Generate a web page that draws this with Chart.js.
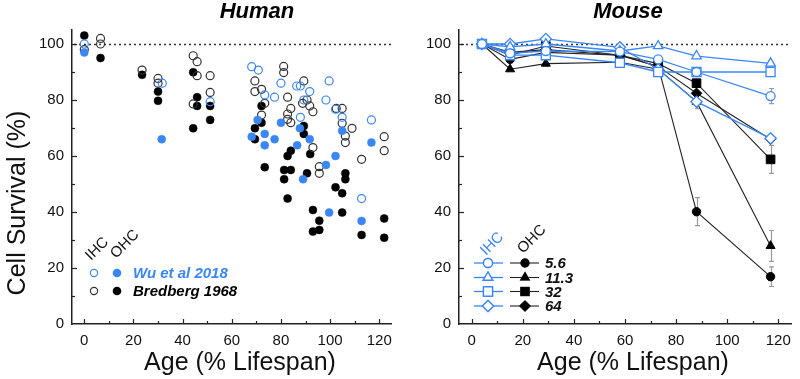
<!DOCTYPE html>
<html><head><meta charset="utf-8">
<script src="https://cdn.jsdelivr.net/npm/chart.js@4/dist/chart.umd.min.js"></script>
<style>
html,body{margin:0;padding:0;background:#fff;}
#wrap{position:relative;width:800px;height:379px;overflow:hidden;}
.pane{position:absolute;top:0;width:400px;height:379px;}
</style></head><body>
<div id="wrap">
<div class="pane" style="left:0"><canvas id="human" width="400" height="379"></canvas></div>
<div class="pane" style="left:400px"><canvas id="mouse" width="400" height="379"></canvas></div>
</div>
<script>
// ---------- DATA ----------
const xTickValues = [0, 20, 40, 60, 80, 100, 120];
const yTickValues = [0, 20, 40, 60, 80, 100];

// Human: Wu et al 2018 (blue), Bredberg 1968 (black)
const wuIhcAge  = [0, 31.7, 51.2, 68.1, 70.8, 73.4, 77.4, 80, 86.4, 87.9, 91.7, 89.3, 87.9, 98.3, 99.6, 102.2, 104.9, 116.8, 112.8];
const wuIhcSurv = [100, 86, 79.4, 91.9, 90.7, 81.8, 81, 86, 85, 85, 83, 80, 73.8, 80, 86.8, 76.7, 73.8, 72.9, 44.8];
const wuOhcAge  = [0, 31.5, 70.5, 68.1, 73.4, 73.4, 77.4, 80, 87.7, 91.7, 86.6, 102.2, 98.3, 89, 99.6, 104.9, 112.8, 116.8];
const wuOhcSurv = [97, 66, 72.9, 66.9, 67.9, 63.8, 66, 71.9, 69.9, 66, 63.8, 60, 56.8, 51.7, 39.8, 69, 36.8, 64.8];
const brIhcAge  = [0, 6.6, 6.6, 23.5, 30, 30, 44.3, 45.9, 45.9, 44.3, 51.2, 51.2, 69.4, 69.4, 72.1, 73.4, 72.1, 81.1, 81.1, 82.7, 84, 82.7, 82.7, 84, 89.3, 88.8, 90.6, 91.7, 93, 93, 95.6, 95.6, 102.5, 104.9, 104.9, 106.2, 106.2, 108.9, 112.8, 122, 122];
const brIhcSurv = [98, 102, 100, 90.7, 87.7, 86, 95.8, 93.7, 88.7, 78.6, 88.7, 82.7, 86.8, 83, 83.8, 78.8, 74.6, 92, 89.8, 81, 77, 75, 73.1, 71.9, 86.8, 78.8, 80, 77.9, 75.8, 63, 56.2, 53.8, 77, 77, 71.7, 67.1, 64.8, 69.9, 58.8, 66.9, 61.9];
const brOhcAge  = [0, 6.6, 23.5, 30, 30, 44.3, 45.9, 45.9, 44.3, 51.2, 51.2, 72.1, 72.1, 69.4, 69.4, 73.4, 81.3, 84, 81.3, 82.7, 84, 82.7, 89.3, 89.3, 91.9, 90.6, 93, 95.6, 93, 95.6, 102.2, 104.9, 104.9, 106.2, 106.2, 112.8, 122, 122];
const brOhcSurv = [103, 95, 89, 83, 79.7, 89.9, 81, 77.9, 69.9, 77.9, 72.9, 77.9, 71.9, 69.9, 66, 56, 55, 55, 51.7, 60, 61.9, 44.8, 70.7, 67.9, 60.7, 53.8, 40.7, 36.9, 33, 33.6, 48.8, 46.7, 39.8, 53.8, 51.7, 31.8, 37.7, 30.8];

// Mouse
const mouseAge = [4, 15, 29, 58, 73, 88, 117];
const mouseGroups = ['5.6', '11.3', '32', '64'];
const ihc5_6  = [100, 96.7, 97.5, 97.3, 94.5, 90, 81.4];
const ihc11_3 = [100, 99, 100, 97.5, 99.3, 95.7, 93.1];
const ihc32   = [100, 96, 96, 93.3, 90, 90, 90];
const ihc64   = [100, 100, 101.8, 98.8, 91, 79.4, 66.3];
const ohc5_6  = [100, 94.5, 97, 96, 92, 40.1, 16.9];
const ohc11_3 = [100, 91, 93, 93.5, 91, 79.4, 27.9];
const ohc32   = [100, 96, 99.3, 96, 93, 86, 58.8];
const ohc64   = [100, 97, 98, 96, 92, 82.4, 66];
const ihc5_6Err  = [0, 0, 0, 0, 0, 0, 2.7];
const ihc64Err   = [0, 0, 0, 0, 0, 2.5, 0];
const ohc5_6Err  = [0, 0, 0, 0, 0, 5, 3.5];
const ohc11_3Err = [0, 0, 0, 0, 0, 0, 5.5];
const ohc32Err   = [0, 0, 0, 0, 0, 0, 5];

// ---------- STYLE ----------
const FONT = "'Liberation Sans', Arial, Helvetica, sans-serif";
const BLUE = '#3a86f5';
const BLACK = '#000';
const zip = (xs, ys) => xs.map((x, i) => ({x, y: ys[i]}));

function scalesFor(yWidth) {
  return {
    x: {
      type: 'linear', min: -5, max: 125,
      afterBuildTicks: s => { s.ticks = xTickValues.map(v => ({value: v})); },
      afterFit: s => { s.height = 55; },
      grid: {display: true, drawOnChartArea: false, drawTicks: false},
      border: {display: true, color: '#222', width: 1.5},
      ticks: {padding: 8, color: '#111', font: {family: FONT, size: 15}, maxRotation: 0, autoSkip: false}
    },
    y: {
      type: 'linear', min: 0, max: 105,
      afterBuildTicks: s => { s.ticks = yTickValues.map(v => ({value: v})); },
      afterFit: s => { s.width = yWidth; },
      grid: {display: true, drawOnChartArea: false, drawTicks: false},
      border: {display: true, color: '#222', width: 1.5},
      ticks: {padding: 8, color: '#111', font: {family: FONT, size: 15}, autoSkip: false}
    }
  };
}

function drawCommon(chart, xTitleX) {
  const ctx = chart.ctx, xs = chart.scales.x, ys = chart.scales.y, a = chart.chartArea;
  ctx.save();
  ctx.strokeStyle = '#222'; ctx.lineWidth = 1.2;
  for (let v = 0; v <= 120; v += 10) {
    const px = Math.round(xs.getPixelForValue(v)) + 0.5;
    const len = v % 20 === 0 ? 5 : 3;
    ctx.beginPath(); ctx.moveTo(px, a.bottom); ctx.lineTo(px, a.bottom - len); ctx.stroke();
  }
  for (let v = 10; v <= 100; v += 10) {
    const py = Math.round(ys.getPixelForValue(v)) + 0.5;
    const len = v % 20 === 0 ? 5 : 3;
    ctx.beginPath(); ctx.moveTo(a.left, py); ctx.lineTo(a.left + len, py); ctx.stroke();
  }
  ctx.fillStyle = '#111';
  ctx.font = '25px ' + FONT;
  ctx.textAlign = 'center'; ctx.textBaseline = 'middle';
  ctx.fillText('Age (% Lifespan)', xTitleX, 363);
  ctx.restore();
}

function drawRefLine(chart) {
  const ctx = chart.ctx, ys = chart.scales.y, a = chart.chartArea;
  const py = Math.round(ys.getPixelForValue(100)) + 0.5;
  ctx.save();
  ctx.strokeStyle = '#333'; ctx.lineWidth = 1.6; ctx.setLineDash([2, 3]);
  ctx.beginPath(); ctx.moveTo(a.left + 2, py); ctx.lineTo(a.right, py); ctx.stroke();
  ctx.restore();
}

function drawTitle(chart, text, cx) {
  const ctx = chart.ctx;
  ctx.save();
  ctx.fillStyle = '#000';
  ctx.font = 'italic bold 22px ' + FONT;
  ctx.textAlign = 'center'; ctx.textBaseline = 'middle';
  ctx.fillText(text, cx, 12);
  ctx.restore();
}

function rotText(ctx, text, x, y, color, size) {
  ctx.save();
  ctx.translate(x, y); ctx.rotate(-Math.PI / 4);
  ctx.fillStyle = color; ctx.font = size + 'px ' + FONT;
  ctx.textAlign = 'left'; ctx.textBaseline = 'alphabetic';
  ctx.fillText(text, 0, 0);
  ctx.restore();
}

// ---------- HUMAN ----------
const humanPlugin = {
  id: 'humanDeco',
  beforeDatasetsDraw(chart) { drawRefLine(chart); },
  afterDraw(chart) {
    const ctx = chart.ctx;
    drawCommon(chart, 240);
    drawTitle(chart, 'Human', 257);
    // y title
    ctx.save();
    ctx.translate(18, 203); ctx.rotate(-Math.PI / 2);
    ctx.fillStyle = '#111'; ctx.font = '25px ' + FONT;
    ctx.textAlign = 'center'; ctx.textBaseline = 'middle';
    ctx.fillText('Cell Survival (%)', 0, 0);
    ctx.restore();
    // legend
    rotText(ctx, 'IHC', 91, 261, '#111', 15);
    rotText(ctx, 'OHC', 116, 259, '#111', 15);
    const rows = [{label: 'Wu et al 2018', color: BLUE, open: BLUE, y: 273},
                  {label: 'Bredberg 1968', color: BLACK, open: '#333', y: 291}];
    rows.forEach(r => {
      ctx.save();
      ctx.lineWidth = 1.2; ctx.strokeStyle = r.open;
      ctx.beginPath(); ctx.arc(94, r.y, 3.6, 0, Math.PI * 2); ctx.stroke();
      ctx.fillStyle = r.color;
      ctx.beginPath(); ctx.arc(117, r.y, 4.3, 0, Math.PI * 2); ctx.fill();
      ctx.font = 'italic bold 15px ' + FONT;
      ctx.textAlign = 'left'; ctx.textBaseline = 'middle';
      ctx.fillText(r.label, 133, r.y + 1);
      ctx.restore();
    });
  }
};

new Chart(document.getElementById('human'), {
  type: 'scatter',
  data: {
    datasets: [
      {label: 'Wu IHC', data: zip(wuIhcAge, wuIhcSurv), pointRadius: 4, pointBorderWidth: 1.2, pointBorderColor: BLUE, pointBackgroundColor: 'rgba(255,255,255,0)'},
      {label: 'Wu OHC', data: zip(wuOhcAge, wuOhcSurv), pointRadius: 4, pointBorderWidth: 0.5, pointBorderColor: BLUE, pointBackgroundColor: BLUE},
      {label: 'Bredberg IHC', data: zip(brIhcAge, brIhcSurv), pointRadius: 4, pointBorderWidth: 1.2, pointBorderColor: '#333', pointBackgroundColor: 'rgba(255,255,255,0)'},
      {label: 'Bredberg OHC', data: zip(brOhcAge, brOhcSurv), pointRadius: 4, pointBorderWidth: 0.5, pointBorderColor: BLACK, pointBackgroundColor: BLACK}
    ]
  },
  options: {
    responsive: false, animation: false, devicePixelRatio: 1,
    layout: {padding: {top: 30, left: 0, right: 0, bottom: 0}},
    plugins: {legend: {display: false}, tooltip: {enabled: false}},
    scales: scalesFor(72),
    elements: {point: {hoverRadius: 4}},
    datasets: {scatter: {clip: false}}
  },
  plugins: [humanPlugin]
});

// ---------- MOUSE ----------
const styles = ['circle', 'triangle', 'rect', 'rectRot'];
const radii = [4.5, 5.5, 6.4, 5.6];
const ihcSeries = [ihc5_6, ihc11_3, ihc32, ihc64];
const ohcSeries = [ohc5_6, ohc11_3, ohc32, ohc64];
const ihcErrs = [ihc5_6Err, null, null, ihc64Err];
const ohcErrs = [ohc5_6Err, ohc11_3Err, ohc32Err, null];

const mouseDatasets = [];
ihcSeries.forEach((s, i) => mouseDatasets.push({
  label: 'IHC ' + mouseGroups[i], data: zip(mouseAge, s), showLine: true,
  borderColor: BLUE, borderWidth: 1.3, pointStyle: styles[i], pointRadius: radii[i],
  pointBorderColor: BLUE, pointBorderWidth: 1.3, pointBackgroundColor: '#fff', errs: ihcErrs[i]
}));
ohcSeries.forEach((s, i) => mouseDatasets.push({
  label: 'OHC ' + mouseGroups[i], data: zip(mouseAge, s), showLine: true,
  borderColor: '#222', borderWidth: 1.1, pointStyle: styles[i], pointRadius: radii[i] - 0.3,
  pointBorderColor: '#000', pointBorderWidth: 1, pointBackgroundColor: '#000', errs: ohcErrs[i]
}));

const mousePlugin = {
  id: 'mouseDeco',
  beforeDatasetsDraw(chart) {
    drawRefLine(chart);
    const ctx = chart.ctx, xs = chart.scales.x, ys = chart.scales.y;
    ctx.save();
    ctx.strokeStyle = '#9a9a9a'; ctx.lineWidth = 1.2;
    chart.data.datasets.forEach(ds => {
      if (!ds.errs) return;
      ds.errs.forEach((e, j) => {
        if (!e) return;
        const px = Math.round(xs.getPixelForValue(mouseAge[j])) + 0.5;
        const y1 = ys.getPixelForValue(ds.data[j].y + e), y2 = ys.getPixelForValue(ds.data[j].y - e);
        ctx.beginPath();
        ctx.moveTo(px, y1); ctx.lineTo(px, y2);
        ctx.moveTo(px - 2.5, y1); ctx.lineTo(px + 2.5, y1);
        ctx.moveTo(px - 2.5, y2); ctx.lineTo(px + 2.5, y2);
        ctx.stroke();
      });
    });
    ctx.restore();
  },
  afterDraw(chart) {
    const ctx = chart.ctx;
    drawCommon(chart, 233);
    drawTitle(chart, 'Mouse', 228);
    rotText(ctx, 'IHC', 86, 256, BLUE, 15);
    rotText(ctx, 'OHC', 123, 254, '#111', 15);
    const rowsY = [263, 277.5, 291.5, 306];
    mouseGroups.forEach((g, i) => {
      const y = rowsY[i];
      ctx.save();
      ctx.strokeStyle = BLUE; ctx.lineWidth = 1.3;
      ctx.beginPath(); ctx.moveTo(74, y); ctx.lineTo(103, y); ctx.stroke();
      Chart.helpers.drawPoint(ctx, {pointStyle: styles[i], radius: radii[i], borderWidth: 1.3}, 88, y);
      ctx.fillStyle = '#fff'; ctx.fill(); ctx.stroke();
      ctx.strokeStyle = '#222'; ctx.lineWidth = 1.1;
      ctx.beginPath(); ctx.moveTo(110, y); ctx.lineTo(139, y); ctx.stroke();
      ctx.fillStyle = '#000';
      Chart.helpers.drawPoint(ctx, {pointStyle: styles[i], radius: radii[i] - 0.3, borderWidth: 1}, 125, y);
      ctx.fill();
      ctx.font = 'italic bold 15px ' + FONT;
      ctx.textAlign = 'left'; ctx.textBaseline = 'middle';
      ctx.fillStyle = '#111';
      ctx.fillText(g, 145, y + 1);
      ctx.restore();
    });
  }
};

new Chart(document.getElementById('mouse'), {
  type: 'scatter',
  data: {datasets: mouseDatasets},
  options: {
    responsive: false, animation: false, devicePixelRatio: 1,
    layout: {padding: {top: 30, left: 0, right: 9, bottom: 0}},
    plugins: {legend: {display: false}, tooltip: {enabled: false}},
    scales: scalesFor(59),
    datasets: {scatter: {clip: false}}
  },
  plugins: [mousePlugin]
});
</script>
</body></html>
